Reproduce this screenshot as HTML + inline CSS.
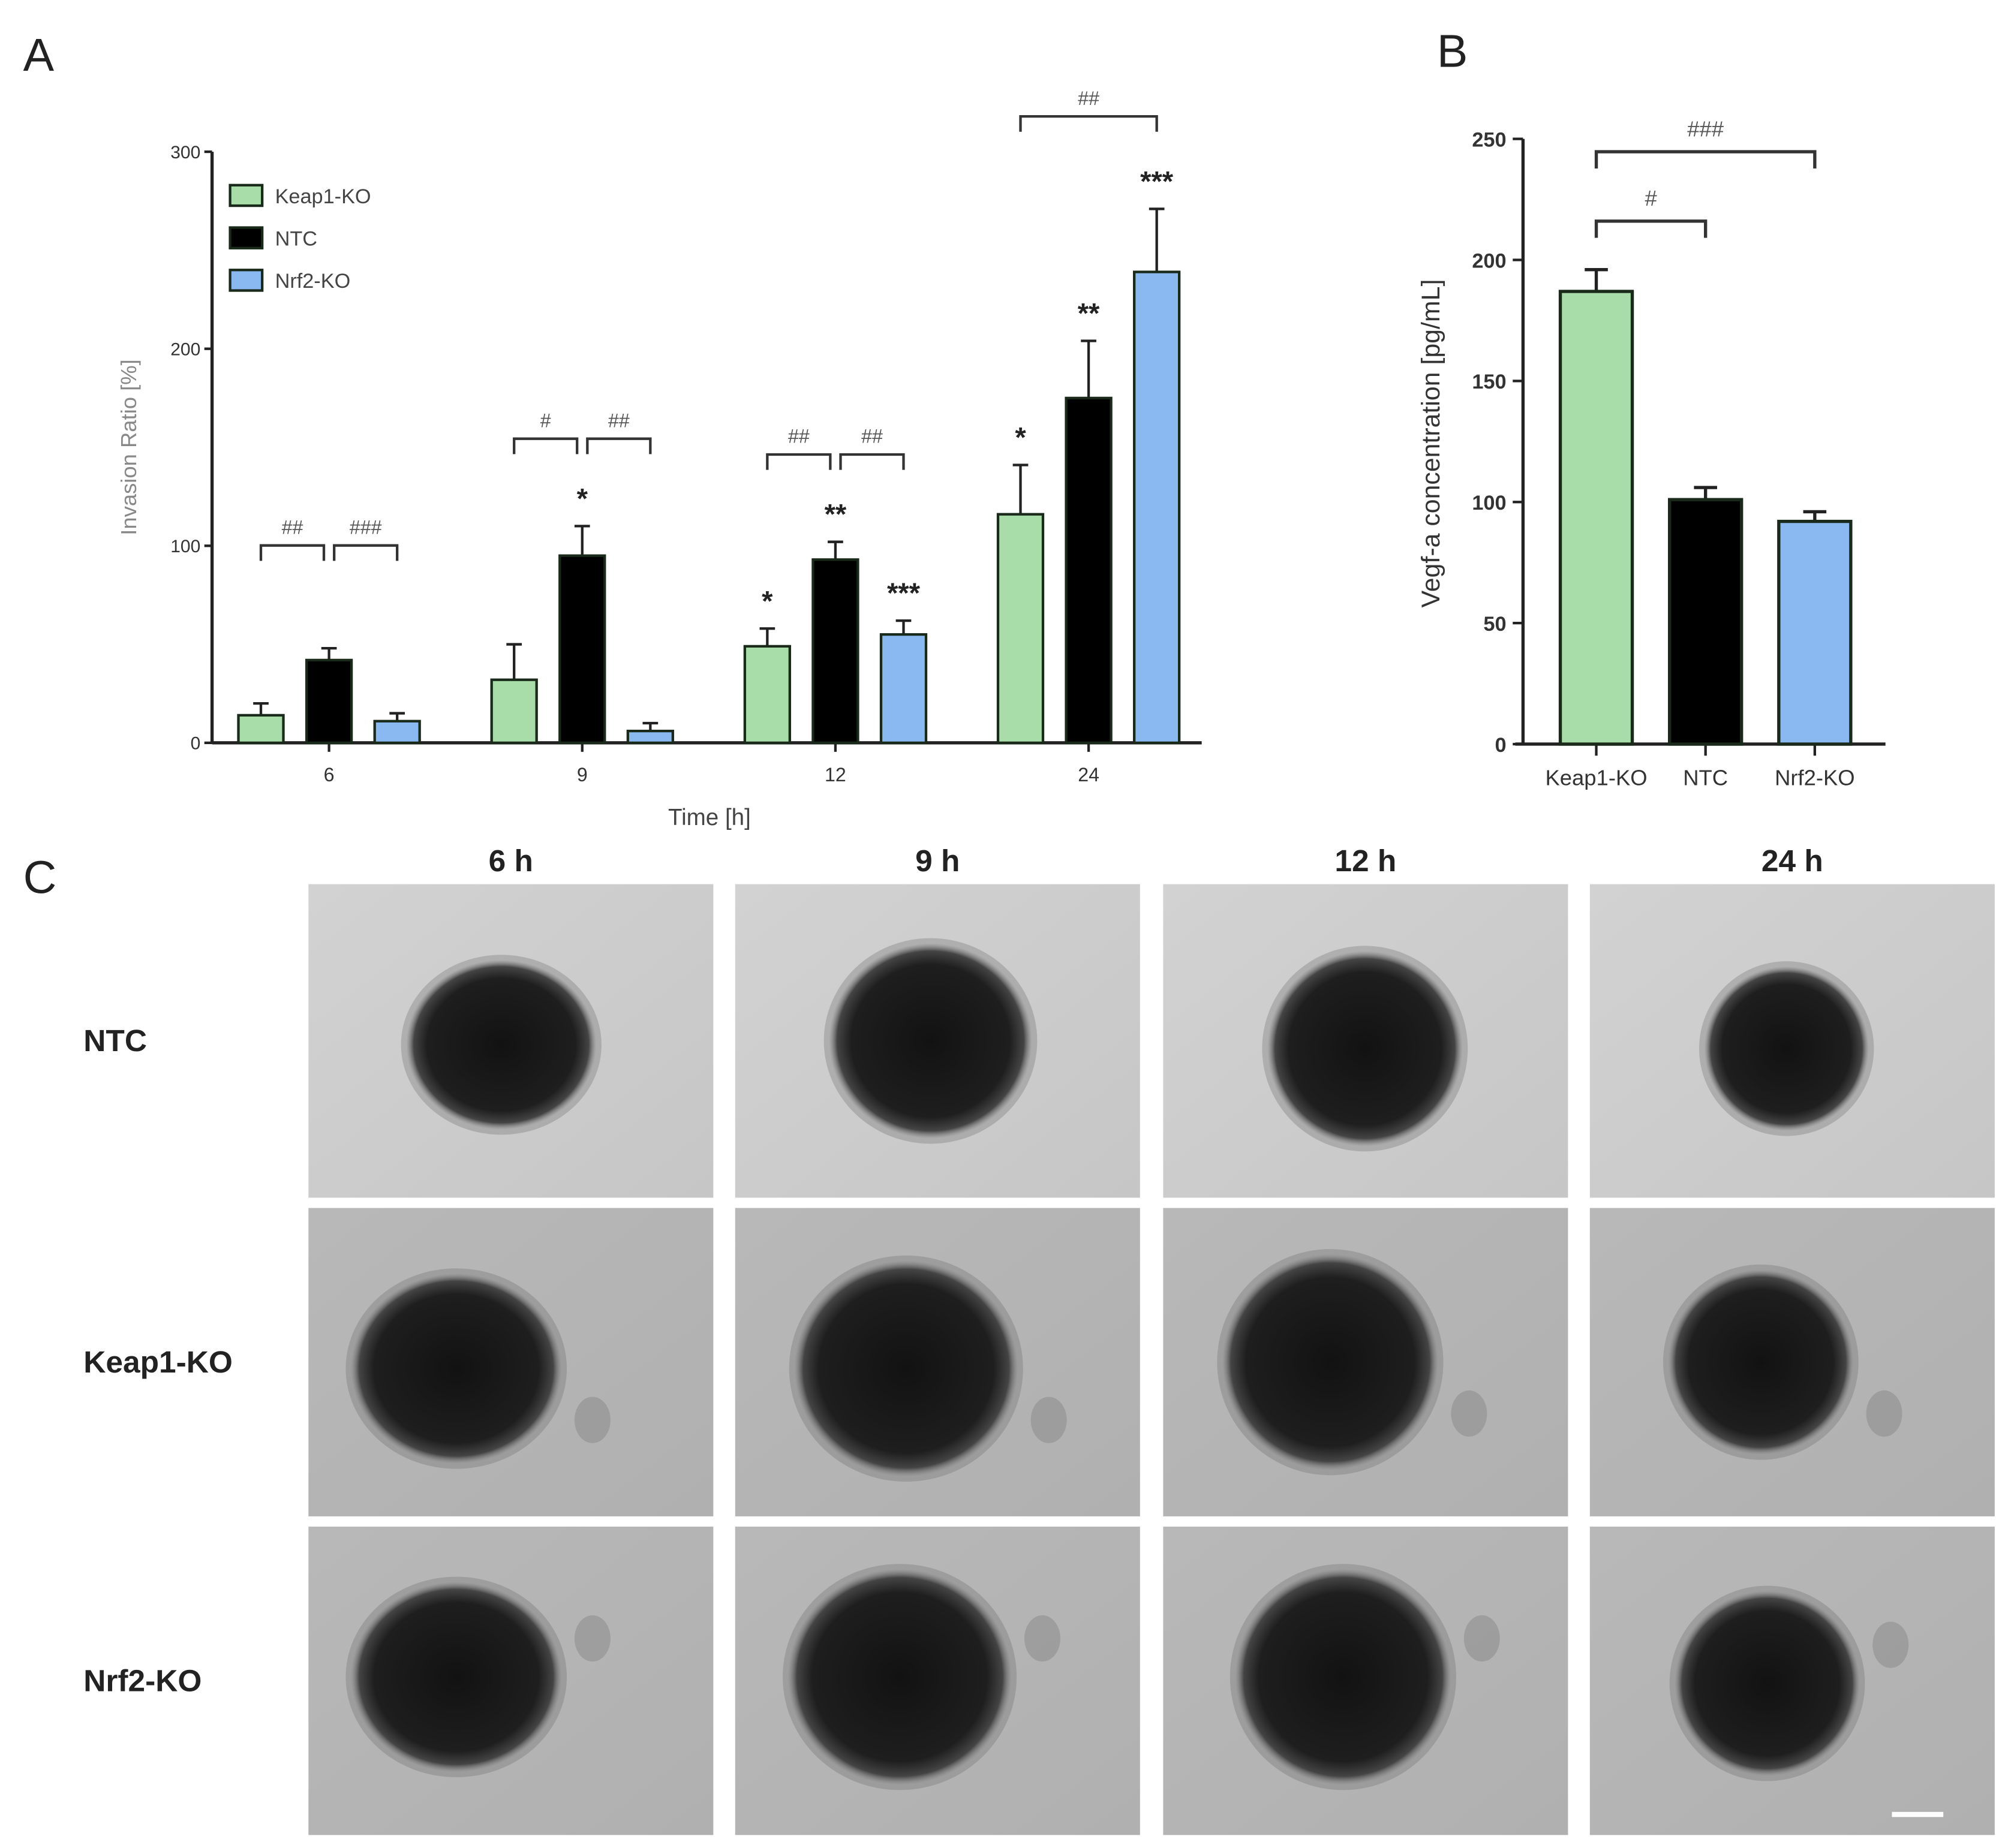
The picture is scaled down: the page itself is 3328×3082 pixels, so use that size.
<!DOCTYPE html>
<html><head><meta charset="utf-8"><style>
html,body{margin:0;padding:0;background:#fff;}
svg{display:block;font-family:"Liberation Sans",Arial,sans-serif;}
</style></head><body>
<svg id="fig" width="3328" height="3082" viewBox="0 0 1553 1438" xmlns="http://www.w3.org/2000/svg">
<defs>
<radialGradient id="blob" cx="50%" cy="50%" r="50%">
<stop offset="0%" stop-color="#121212"/><stop offset="78%" stop-color="#1e1e1e"/><stop offset="92%" stop-color="#444"/><stop offset="100%" stop-color="#777" stop-opacity="0"/>
</radialGradient>
<linearGradient id="bg1" x1="0" y1="0" x2="1" y2="1"><stop offset="0" stop-color="#d2d2d2"/><stop offset="1" stop-color="#c6c6c6"/></linearGradient>
<linearGradient id="bg2" x1="0" y1="0" x2="1" y2="1"><stop offset="0" stop-color="#b8b8b8"/><stop offset="1" stop-color="#b0b0b0"/></linearGradient>
</defs>
<g id="panelA"></g>
<g id="panelB"></g>
<g id="panelC"></g>
</svg>
<script>
const timepoints=["6","9","12","24"];
const seriesNames=["Keap1-KO","NTC","Nrf2-KO"];
const keapVals=[14,32,49,116];
const ntcVals=[42,95,93,175];
const nrfVals=[11,6,55,239];
const keapErr=[6,18,9,25];
const ntcErr=[6,15,9,29];
const nrfErr=[4,4,7,32];
const yTicksA=[0,100,200,300];
const starsA=[["","",""],["","*",""],["*","**","***"],["*","**","***"]];
const hashA=[["##","###"],["#","##"],["##","##"],["##"]];
const catsB=["Keap1-KO","NTC","Nrf2-KO"];
const valsB=[187,101,92];
const errB=[9,5,4];
const yTicksB=[0,50,100,150,200,250];
const colHeaders=["6 h","9 h","12 h","24 h"];
const rowLabels=["NTC","Keap1-KO","Nrf2-KO"];
const colors=["#a8dca8","#000000","#8ab9f2"];

const NS="http://www.w3.org/2000/svg";
function mk(parent,tag,attrs,txt){const e=document.createElementNS(NS,tag);for(const k in attrs)e.setAttribute(k,attrs[k]);if(txt!==undefined)e.textContent=txt;parent.appendChild(e);return e;}

// ---------- Panel A ----------
const A=document.getElementById('panelA');
const ax0=165,ax1=935,ay0=578,ay1=118;
const yA=v=>ay0-(v/300)*(ay0-ay1);
const groupX=i=>256+i*197;
const barOff=[-53,0,53],bw=35;
const bx=(g,s)=>groupX(g)+barOff[s];
let t=mk(A,'text',{x:18,y:55,'font-size':36,fill:'#222'},'A');

mk(A,'line',{x1:ax0,y1:ay0,x2:ax0,y2:ay1,stroke:'#222','stroke-width':2.5});
mk(A,'line',{x1:ax0,y1:ay0,x2:ax1,y2:ay0,stroke:'#222','stroke-width':2.5});
yTicksA.forEach(v=>{
 mk(A,'line',{x1:ax0-6,y1:yA(v),x2:ax0,y2:yA(v),stroke:'#222','stroke-width':2});
 const l=mk(A,'text',{x:ax0-9,y:yA(v)+5,'font-size':14,'text-anchor':'end',fill:'#333'},v);
 
});
t=mk(A,'text',{x:106,y:348,'font-size':17,'text-anchor':'middle',fill:'#888',transform:'rotate(-90 106 348)'},'Invasion Ratio [%]');

t=mk(A,'text',{x:552,y:642,'font-size':18,'text-anchor':'middle',fill:'#444'},'Time [h]');

const vals=[keapVals,ntcVals,nrfVals],errs=[keapErr,ntcErr,nrfErr];
timepoints.forEach((tp,g)=>{
 mk(A,'line',{x1:groupX(g),y1:ay0,x2:groupX(g),y2:ay0+7,stroke:'#222','stroke-width':2});
 const l=mk(A,'text',{x:groupX(g),y:ay0+30,'font-size':15,'text-anchor':'middle',fill:'#333'},tp);
 
 for(let s=0;s<3;s++){
  const v=vals[s][g],e=errs[s][g],cx=bx(g,s);
  const eb=mk(A,'line',{x1:cx,y1:yA(v),x2:cx,y2:yA(v+e),stroke:'#222','stroke-width':2});
  
  mk(A,'line',{x1:cx-6,y1:yA(v+e),x2:cx+6,y2:yA(v+e),stroke:'#222','stroke-width':2});
  const r=mk(A,'rect',{x:cx-bw/2,y:yA(v),width:bw,height:ay0-yA(v),fill:colors[s],stroke:'#1a2a1a','stroke-width':2});
  
  const st=starsA[g][s];
  if(st){const a=mk(A,'text',{x:cx,y:yA(v+e)-14,'font-size':22,'font-weight':'bold','text-anchor':'middle',fill:'#222'},st);
   }
 }
 const h=hashA[g];
 let pairs, by;
 if(g===3){pairs=[[0,2]];by=yA(Math.max(nrfVals[3]+nrfErr[3],0))-72;}
 else{pairs=[[0,1],[1,2]];const top=ntcVals[g]+ntcErr[g];by=yA(top)-(g===0?80:68);}
 pairs.forEach((p,k)=>{
  const xa=bx(g,p[0])+(g===3?0:(k===1?4:0)),xb=bx(g,p[1])-(g===3?0:(k===0?4:0));
  const br=mk(A,'path',{d:`M${xa} ${by+12} V${by} H${xb} V${by+12}`,fill:'none',stroke:'#333','stroke-width':2});
  
  const ht=mk(A,'text',{x:(xa+xb)/2,y:by-9,'font-size':15,'text-anchor':'middle',fill:'#555'},h[k]);
  
 });
});
seriesNames.forEach((n,s)=>{
 const ly=152+s*33;
 const sw=mk(A,'rect',{x:179,y:ly-8,width:25,height:16,fill:colors[s],stroke:'#1a2a1a','stroke-width':2});
 
 const lt=mk(A,'text',{x:214,y:ly+6,'font-size':16,fill:'#444'},n);
 
});

// ---------- Panel B ----------
const B=document.getElementById('panelB');
const bx0=1185,bx1=1467,by0=579,by1=108;
const yB=v=>by0-(v/250)*(by0-by1);
const catX=i=>1242+i*85;
t=mk(B,'text',{x:1118,y:52,'font-size':36,fill:'#222'},'B');

mk(B,'line',{x1:bx0,y1:by0,x2:bx0,y2:by1,stroke:'#222','stroke-width':2.5});
mk(B,'line',{x1:bx0-6,y1:by0,x2:bx1,y2:by0,stroke:'#222','stroke-width':2.5});
yTicksB.forEach(v=>{
 mk(B,'line',{x1:bx0-8,y1:yB(v),x2:bx0,y2:yB(v),stroke:'#222','stroke-width':2});
 const l=mk(B,'text',{x:bx0-13,y:yB(v)+6,'font-size':16,'font-weight':'bold','text-anchor':'end',fill:'#333'},v);
 
});
t=mk(B,'text',{x:1120,y:345,'font-size':20,'text-anchor':'middle',fill:'#333',transform:'rotate(-90 1120 345)'},'Vegf-a concentration [pg/mL]');

catsB.forEach((c,i)=>{
 const cx=catX(i),v=valsB[i],e=errB[i];
 mk(B,'line',{x1:cx,y1:by0,x2:cx,y2:by0+9,stroke:'#222','stroke-width':2});
 mk(B,'line',{x1:cx,y1:yB(v),x2:cx,y2:yB(v+e),stroke:'#222','stroke-width':2.5});
 mk(B,'line',{x1:cx-9,y1:yB(v+e),x2:cx+9,y2:yB(v+e),stroke:'#222','stroke-width':2.5});
 const r=mk(B,'rect',{x:cx-28,y:yB(v),width:56,height:by0-yB(v),fill:colors[i],stroke:'#1a2a1a','stroke-width':2.5});
 
 const l=mk(B,'text',{x:cx,y:by0+32,'font-size':17,'text-anchor':'middle',fill:'#333'},c);
 
});
[[0,2,118,'###'],[0,1,172,'#']].forEach(b=>{
 const xa=catX(b[0]),xb=catX(b[1]);
 const br=mk(B,'path',{d:`M${xa} ${b[2]+13} V${b[2]} H${xb} V${b[2]+13}`,fill:'none',stroke:'#333','stroke-width':2.5});
 
 const ht=mk(B,'text',{x:(xa+xb)/2,y:b[2]-12,'font-size':17,'text-anchor':'middle',fill:'#555'},b[3]);
 
});

// ---------- Panel C ----------
const C=document.getElementById('panelC');
t=mk(C,'text',{x:18,y:695,'font-size':36,fill:'#222'},'C');

const colX=[240,572,905,1237],rowY=[688,940,1188],iw=315,ih=[244,240,240];
const blobs=[[[150,125],[152,122],[157,128],[153,128]],[[115,125],[133,125],[130,120],[133,120]],[[115,117],[128,117],[140,117],[138,122]]];
const blobR=[[70,62],[75,72],[72,72],[60,60]];
colHeaders.forEach((h,c)=>{
 const l=mk(C,'text',{x:colX[c]+iw/2,y:678,'font-size':24,'font-weight':'bold','text-anchor':'middle',fill:'#222'},h);
 
});
rowLabels.forEach((rl,r)=>{
 const l=mk(C,'text',{x:65,y:rowY[r]+ih[r]/2+8,'font-size':24,'font-weight':'bold',fill:'#222'},rl);
 
 colHeaders.forEach((h,c)=>{
  const g=mk(C,'g',{});
  
  
  mk(g,'rect',{x:colX[c],y:rowY[r],width:iw,height:ih[r],fill:r===0?'url(#bg1)':'url(#bg2)'});
  const cx=colX[c]+blobs[r][c][0],cy=rowY[r]+blobs[r][c][1];
  const rx=blobR[c][0]+(r>0?8:0),ry=blobR[c][1]+(r>0?8:0);
  mk(g,'ellipse',{cx:cx,cy:cy,rx:rx+8,ry:ry+8,fill:'#666','opacity':0.3});
  mk(g,'ellipse',{cx:cx,cy:cy,rx:rx+4,ry:ry+4,fill:'url(#blob)'});
  if(r>0){mk(g,'ellipse',{cx:cx+rx+28,cy:cy+(r===1?40:-30),rx:14,ry:18,fill:'#888',opacity:0.5});}
 });
});
const sb=mk(C,'rect',{x:1472,y:1410,width:40,height:4,fill:'#fff'});

</script>
</body></html>
